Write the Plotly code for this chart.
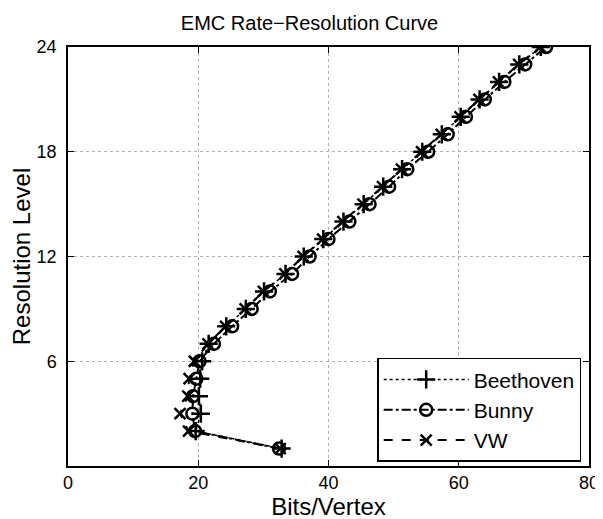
import plotly.graph_objects as go

levels = list(range(1, 25))
bunny = [32.4, 19.5, 19.1, 19.2, 19.7, 20.2, 22.4, 25.2, 28.2, 31.0, 34.4, 37.1,
         40.0, 43.2, 46.3, 49.3, 52.1, 55.3, 58.3, 61.1, 64.0, 67.0, 70.2, 73.4]
beethoven = [32.8, 19.6, 20.4, 20.1, 20.3, 20.6, 21.6, 24.3, 27.3, 30.1, 33.4, 36.2,
             39.2, 42.3, 45.4, 48.4, 51.3, 54.4, 57.4, 60.3, 63.2, 66.2, 69.3, 72.6]
vw = [32.6, 18.5, 17.2, 18.4, 18.6, 19.4, 21.5, 24.2, 27.2, 30.0, 33.3, 36.1,
      39.1, 42.2, 45.3, 48.3, 51.2, 54.3, 57.3, 60.2, 63.1, 66.1, 69.2, 72.5]

fig = go.Figure()
fig.add_trace(go.Scatter(x=beethoven, y=levels, name="Beethoven", mode="lines+markers",
                         line=dict(color="black", width=1.5, dash="dot"),
                         marker=dict(symbol="cross-thin-open", size=13, color="black",
                                     line=dict(width=2.5, color="black"))))
fig.add_trace(go.Scatter(x=bunny, y=levels, name="Bunny", mode="lines+markers",
                         line=dict(color="black", width=2, dash="dashdot"),
                         marker=dict(symbol="circle-open", size=12, color="black",
                                     line=dict(width=2.5, color="black"))))
fig.add_trace(go.Scatter(x=vw, y=levels, name="VW", mode="lines+markers",
                         line=dict(color="black", width=2, dash="dash"),
                         marker=dict(symbol="x-thin-open", size=11, color="black",
                                     line=dict(width=2.5, color="black"))))

axis_common = dict(showline=True, linecolor="black", linewidth=1.5, mirror="allticks",
                   ticks="inside", ticklen=6, tickcolor="black", showgrid=True,
                   gridcolor="#b0b0b0", griddash="dot", gridwidth=1, zeroline=False,
                   automargin=False, tickfont=dict(size=18, color="black"))
fig.update_xaxes(range=[0, 80], tickvals=[0, 20, 40, 60, 80],
                 title=dict(text="Bits/Vertex", font=dict(size=24, color="black"), standoff=0),
                 **axis_common)
fig.update_yaxes(range=[0, 24], tickvals=[6, 12, 18, 24], ticklabelstandoff=6,
                 title=dict(text="Resolution Level", font=dict(size=24, color="black"), standoff=6),
                 **axis_common)

fig.update_layout(
    width=603, height=519,
    margin=dict(l=60, r=22, t=39, b=61),
    paper_bgcolor="white", plot_bgcolor="white",
    font=dict(family="Liberation Sans, Arial, sans-serif", color="black"),
    title=dict(text="EMC Rate\u2212Resolution Curve", x=0.5, xanchor="center", y=0.972,
               yanchor="middle", font=dict(size=20, color="black")),
    legend=dict(x=0.985, y=0.01, xanchor="right", yanchor="bottom", bgcolor="white",
                bordercolor="black", borderwidth=1.5, font=dict(size=21, color="black"),
                itemwidth=85, tracegroupgap=0),
    showlegend=True,
)

fig.write_html("out.html")
